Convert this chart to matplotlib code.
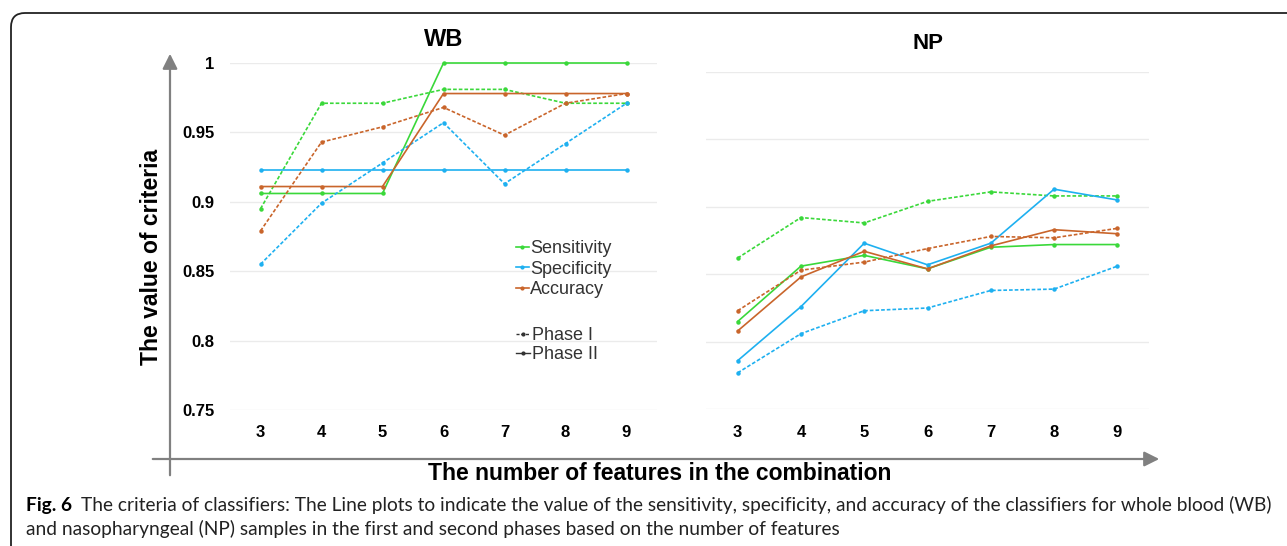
import matplotlib
matplotlib.use("Agg")
import matplotlib.pyplot as plt
from matplotlib.lines import Line2D
from matplotlib.patches import FancyBboxPatch

# number of features in the combination
features = [3, 4, 5, 6, 7, 8, 9]

# WB (whole blood)
wb_sens_p1 = [0.895, 0.971, 0.971, 0.981, 0.981, 0.971, 0.971]
wb_sens_p2 = [0.906, 0.906, 0.906, 1.000, 1.000, 1.000, 1.000]
wb_spec_p1 = [0.855, 0.899, 0.928, 0.957, 0.913, 0.942, 0.971]
wb_spec_p2 = [0.923, 0.923, 0.923, 0.923, 0.923, 0.923, 0.923]
wb_acc_p1 = [0.879, 0.943, 0.954, 0.968, 0.948, 0.971, 0.978]
wb_acc_p2 = [0.911, 0.911, 0.911, 0.978, 0.978, 0.978, 0.978]

# NP (nasopharyngeal)
np_sens_p1 = [0.862, 0.892, 0.888, 0.904, 0.911, 0.908, 0.908]
np_sens_p2 = [0.815, 0.856, 0.864, 0.854, 0.870, 0.872, 0.872]
np_spec_p1 = [0.777, 0.806, 0.823, 0.825, 0.838, 0.839, 0.856]
np_spec_p2 = [0.786, 0.826, 0.873, 0.857, 0.873, 0.913, 0.905]
np_acc_p1 = [0.823, 0.853, 0.859, 0.869, 0.878, 0.877, 0.884]
np_acc_p2 = [0.808, 0.848, 0.867, 0.854, 0.871, 0.883, 0.880]

y_ticks = [0.75, 0.8, 0.85, 0.9, 0.95, 1.0]
y_ticklabels = ["0.75", "0.8", "0.85", "0.9", "0.95", "1"]

caption_head = 'Fig. 6'
caption_line1 = ('The criteria of classifiers: The Line plots to indicate the value of the sensitivity, '
                 'specificity, and accuracy of the classifiers for whole blood (WB)')
caption_line2 = 'and nasopharyngeal (NP) samples in the first and second phases based on the number of features'

GREEN = "#3ad83a"
BLUE = "#1eb0f0"
ORANGE = "#c9652b"
P1_STYLE = (0, (2.2, 1.2))

W, H = 1287, 546
plt.rcParams['font.family'] = ['Liberation Sans', 'DejaVu Sans']
fig = plt.figure(figsize=(W / 100, H / 100), dpi=100)

# background layer in pixel coordinates
bg = fig.add_axes([0, 0, 1, 1], zorder=-5)
bg.set_xlim(0, W)
bg.set_ylim(H, 0)
bg.axis('off')

bg.add_patch(FancyBboxPatch((11, 13), 1400, 600, boxstyle="round,pad=0,rounding_size=14",
                            fc='white', ec='#222222', lw=1.3))
arrow_kw = dict(arrowstyle='-|>,head_length=0.9,head_width=0.45', color='#808080', lw=1.6)
bg.annotate('', xy=(170, 51), xytext=(170, 478), arrowprops=arrow_kw)
bg.annotate('', xy=(1162, 459), xytext=(150, 459), arrowprops=arrow_kw)

bg.text(152, 257, 'The value of criteria', rotation=90, ha='center', va='center',
        fontsize=16.5, fontweight='bold')
bg.text(660, 473, 'The number of features in the combination', ha='center', va='center',
        fontsize=16.5, fontweight='bold')


def draw_panel(ax, series, show_y):
    for vals, color, ls in series:
        ax.plot(features, vals, color=color, linestyle=ls, lw=1.2,
                marker='o', markersize=2.2, clip_on=False)
    ax.set_xlim(2.5, 9.5)
    ax.set_ylim(0.75, 1.0)
    ax.set_xticks(features)
    ax.set_yticks(y_ticks)
    if show_y:
        ax.set_yticklabels(y_ticklabels)
    else:
        ax.set_yticklabels([])
    for lab in ax.get_xticklabels() + ax.get_yticklabels():
        lab.set_fontweight('bold')
        lab.set_fontsize(12)
    ax.tick_params(length=0, pad=11)
    for s in ax.spines.values():
        s.set_visible(False)
    ax.grid(axis='y', color='#ebebeb', lw=1.0)
    ax.set_axisbelow(True)


ax_wb = fig.add_axes([230 / W, 1 - 410 / H, 427 / W, 347 / H])
draw_panel(ax_wb, [
    (wb_sens_p1, GREEN, P1_STYLE), (wb_sens_p2, GREEN, '-'),
    (wb_spec_p1, BLUE, P1_STYLE), (wb_spec_p2, BLUE, '-'),
    (wb_acc_p1, ORANGE, P1_STYLE), (wb_acc_p2, ORANGE, '-'),
], True)
ax_wb.set_title('WB', fontsize=17, fontweight='bold', pad=12)

ax_np = fig.add_axes([706 / W, 1 - 409.3 / H, 443 / W, 337.6 / H])
draw_panel(ax_np, [
    (np_sens_p1, GREEN, P1_STYLE), (np_sens_p2, GREEN, '-'),
    (np_spec_p1, BLUE, P1_STYLE), (np_spec_p2, BLUE, '-'),
    (np_acc_p1, ORANGE, P1_STYLE), (np_acc_p2, ORANGE, '-'),
], False)
ax_np.set_title('NP', fontsize=16, fontweight='bold', pad=16)

# legends
crit_handles = [Line2D([], [], color=c, lw=1.2, marker='o', markersize=2) for c in (GREEN, BLUE, ORANGE)]
leg1 = ax_wb.legend(crit_handles, ['Sensitivity', 'Specificity', 'Accuracy'],
                    loc='upper left', bbox_to_anchor=((516 - 230) / 427, (410 - 240) / 347),
                    frameon=False, fontsize=13, handlelength=0.7, handletextpad=0.1,
                    labelspacing=0.2, borderpad=0, borderaxespad=0)
for t in leg1.get_texts():
    t.set_color('#333333')
ax_wb.add_artist(leg1)
phase_handles = [Line2D([], [], color='#333333', lw=1.0, ls=P1_STYLE, marker='o', markersize=2),
                 Line2D([], [], color='#333333', lw=1.0, ls='-', marker='o', markersize=2)]
leg2 = ax_wb.legend(phase_handles, ['Phase I', 'Phase II'],
                    loc='upper left', bbox_to_anchor=((516 - 230) / 427, (410 - 327) / 347),
                    frameon=False, fontsize=13, handlelength=0.8, handletextpad=0.1,
                    labelspacing=0.12, borderpad=0, borderaxespad=0)
for t in leg2.get_texts():
    t.set_color('#333333')

# caption: condensed look, size fitted so that line 1 ends near the right border
cap_family = ['Lato', 'DejaVu Sans']
cap_size = 13.0
t_head = bg.text(26, 505, caption_head, fontsize=cap_size, fontweight='bold', va='center', family=cap_family)
t_l1 = bg.text(80, 505, caption_line1, fontsize=cap_size, va='center', family=cap_family, color='#222222')
t_l2 = bg.text(26, 529, caption_line2, fontsize=cap_size, va='center', family=cap_family, color='#222222')
fig.canvas.draw()
r = fig.canvas.get_renderer()
head_w = t_head.get_window_extent(r).width
l1_w = t_l1.get_window_extent(r).width
scale = (1275 - 26) / (head_w + 9 + l1_w)
for t in (t_head, t_l1, t_l2):
    t.set_fontsize(cap_size * scale)
fig.canvas.draw()
head_w = t_head.get_window_extent(r).width
t_l1.set_x(26 + head_w + 9)

fig.savefig('out.png', dpi=100)
